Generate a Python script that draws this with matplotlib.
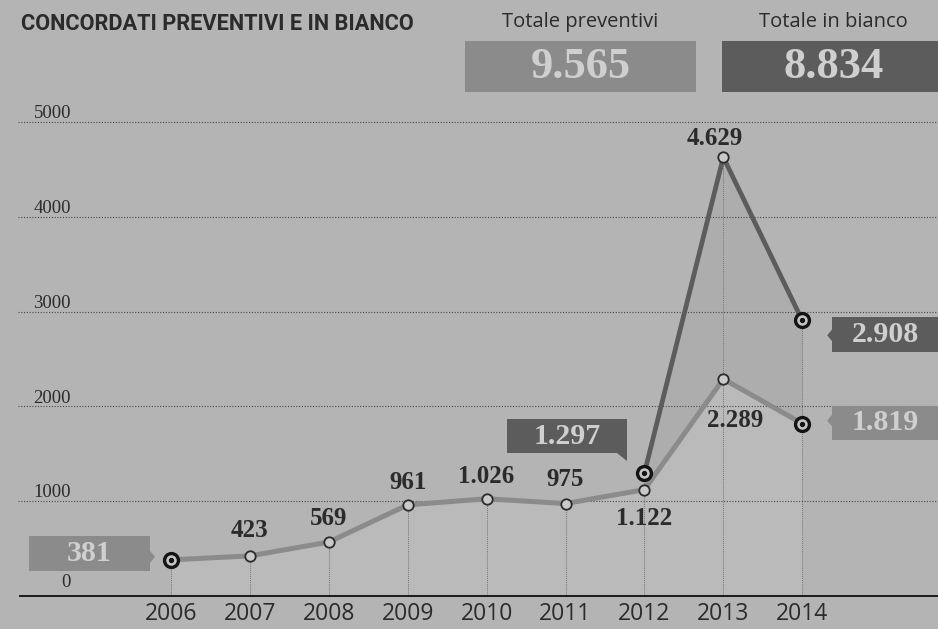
import numpy as np
import matplotlib
matplotlib.use("Agg")
import matplotlib.pyplot as plt
from matplotlib.patches import Rectangle, Polygon

# concordati per anno
anni = [2006, 2007, 2008, 2009, 2010, 2011, 2012, 2013, 2014]
preventivi = [381, 423, 569, 961, 1026, 975, 1122, 2289, 1819]
anni_bianco = [2012, 2013, 2014]
in_bianco = [1297, 4629, 2908]
yticks = [0, 1000, 2000, 3000, 4000, 5000]

def fmt(v):
    return "{:,}".format(v).replace(",", ".")

bg = "#b4b4b4"
c_prev = "#8b8b8b"
c_bian = "#5c5c5c"
c_txt = "#2b2b2b"
serif = ["Liberation Serif", "DejaVu Serif"]
sans = ["Open Sans", "DejaVu Sans"]

fig = plt.figure(figsize=(9.38, 6.29), dpi=100, facecolor=bg)
ax = fig.add_axes([0, 0, 1, 1])
ax.set_facecolor(bg)
ax.axis("off")

# scala: 2006 a 171px, 78.9px per anno; 0 a 596px dall'alto, 94.8px ogni 1000
W, H = 938, 629
ax.set_xlim(2006 - 171 / 78.9, 2006 + (W - 171) / 78.9)
ax.set_ylim(-(H - 596) / 0.0948, 596 / 0.0948)

# griglia e asse
for t in yticks[1:]:
    ax.axhline(t, xmin=18 / W, xmax=1, color="#4a4a4a", lw=0.8, ls=(0, (1, 1.5)), zorder=1)
    ax.text(2006 - 100 / 78.9, t + 40, str(t), ha="right", va="baseline",
            fontsize=13.5, family=serif, color=c_txt)
ax.text(2006 - 100 / 78.9, 90, "0", ha="right", va="baseline",
        fontsize=13.5, family=serif, color=c_txt)
ax.axhline(0, xmin=20 / W, xmax=1, color="#1a1a1a", lw=1.4, zorder=3)

for a in anni:
    ax.text(a, -195, str(a), ha="center", va="center", fontsize=16.5,
            family=sans, color=c_txt)

# aree sotto le linee
ax.fill_between(anni, preventivi, 0, color="#bababa", zorder=0.5, lw=0)
ax.fill_between(anni_bianco, in_bianco, preventivi[-3:], color="#adadad", zorder=0.5, lw=0)

# linee verticali
tops = list(preventivi)
for a, v in zip(anni_bianco, in_bianco):
    tops[anni.index(a)] = max(tops[anni.index(a)], v)
ax.vlines(anni, 0, tops, color="#777777", lw=0.7, ls=(0, (1, 1)), zorder=1.5)

ax.plot(anni, preventivi, color=c_prev, lw=3.6, zorder=4, solid_capstyle="round")
ax.plot(anni_bianco, in_bianco, color=c_bian, lw=3.4, zorder=4, solid_capstyle="round")

# marcatori
aperti_p = [i for i in range(len(anni)) if anni[i] not in (2006, 2014)]
ax.plot([anni[i] for i in aperti_p], [preventivi[i] for i in aperti_p], "o", ms=7.5,
        mfc="#c9c9c9", mec="#2a2a2a", mew=1.3, zorder=5, ls="none")
ax.plot([2013], [in_bianco[1]], "o", ms=7.5, mfc="#c9c9c9", mec="#2a2a2a", mew=1.3, zorder=5)
bull_x = [2006, 2014, 2012, 2014]
bull_y = [preventivi[0], preventivi[-1], in_bianco[0], in_bianco[2]]
ax.plot(bull_x, bull_y, "o", ms=10, mfc="#c4c4c4", mec="#141414", mew=2.4, zorder=6, ls="none")
ax.plot(bull_x, bull_y, "o", ms=2.8, mfc="#141414", mec="#141414", zorder=7, ls="none")

# etichette dei valori
offsets = {2007: (0, 25), 2008: (0, 24), 2009: (0, 22), 2010: (0, 22),
           2011: (0, 24), 2012: (0, -29), 2013: (12, -41)}
for a, v in zip(anni, preventivi):
    if a in offsets:
        ax.annotate(fmt(v), (a, v), xytext=offsets[a], textcoords="offset pixels",
                    ha="center", va="center", fontsize=18, fontweight="bold",
                    family=serif, color=c_txt, zorder=8)
ax.annotate(fmt(in_bianco[1]), (2013, in_bianco[1]), xytext=(-9, 19),
            textcoords="offset pixels", ha="center", va="center", fontsize=18,
            fontweight="bold", family=serif, color=c_txt, zorder=8)

# riquadri con freccia
def callout(x, y, testo, colore, box, tip):
    px, py = ax.transData.transform((x, y))
    l, r, t, b = box
    ax.add_patch(Rectangle((px + l, py - b), r - l, b - t, transform=None,
                           facecolor=colore, edgecolor="none", zorder=6))
    ax.add_patch(Polygon([(px + u, py - w) for u, w in tip], closed=True,
                         transform=None, facecolor=colore, edgecolor="none", zorder=6))
    ax.text(px + (l + min(r, W - px)) / 2, py - (t + b) / 2, testo, transform=None,
            ha="center", va="center", fontsize=21.5, fontweight="bold",
            family=serif, color="#cfcfcf", zorder=7)

callout(2006, preventivi[0], fmt(preventivi[0]), c_prev,
        (-142, -21, -24, 11), [(-21, -9), (-16, -3), (-21, 3)])
callout(2012, in_bianco[0], fmt(in_bianco[0]), c_bian,
        (-137, -17, -54, -20), [(-27, -20), (-17, -20), (-17, -12)])
callout(2014, in_bianco[2], fmt(in_bianco[2]), c_bian,
        (30, 150, -3, 32), [(30, 9), (25, 15), (30, 21)])
callout(2014, preventivi[-1], fmt(preventivi[-1]), c_prev,
        (30, 150, -18, 16), [(30, -9), (25, -3), (30, 3)])

# titolo e totali
fig.text(21 / W, 1 - 24 / H, "CONCORDATI PREVENTIVI E IN BIANCO", ha="left", va="center",
         fontsize=15.7, fontweight="bold",
         family=["Liberation Sans Narrow", "Roboto", "DejaVu Sans"], color=c_txt)

tot_p = sum(preventivi)
tot_b = sum(in_bianco)
for x0, x1, lab, tot, col in [(465, 696, "Totale preventivi", tot_p, c_prev),
                              (722, 945, "Totale in bianco", tot_b, c_bian)]:
    fig.patches.append(Rectangle((x0 / W, 1 - 92 / H), (x1 - x0) / W, 51 / H,
                                 transform=fig.transFigure, facecolor=col,
                                 edgecolor="none", zorder=5))
    cx = (x0 + min(x1, W + 12)) / 2 / W
    fig.text(cx, 1 - 22 / H, lab, ha="center", va="center", fontsize=14.5,
             family=sans, color=c_txt)
    fig.text(cx, 1 - 67 / H, fmt(tot), ha="center", va="center", fontsize=32,
             fontweight="bold", family=serif, color="#cfcfcf", zorder=6)

fig.savefig("out.png", dpi=100, facecolor=bg)
